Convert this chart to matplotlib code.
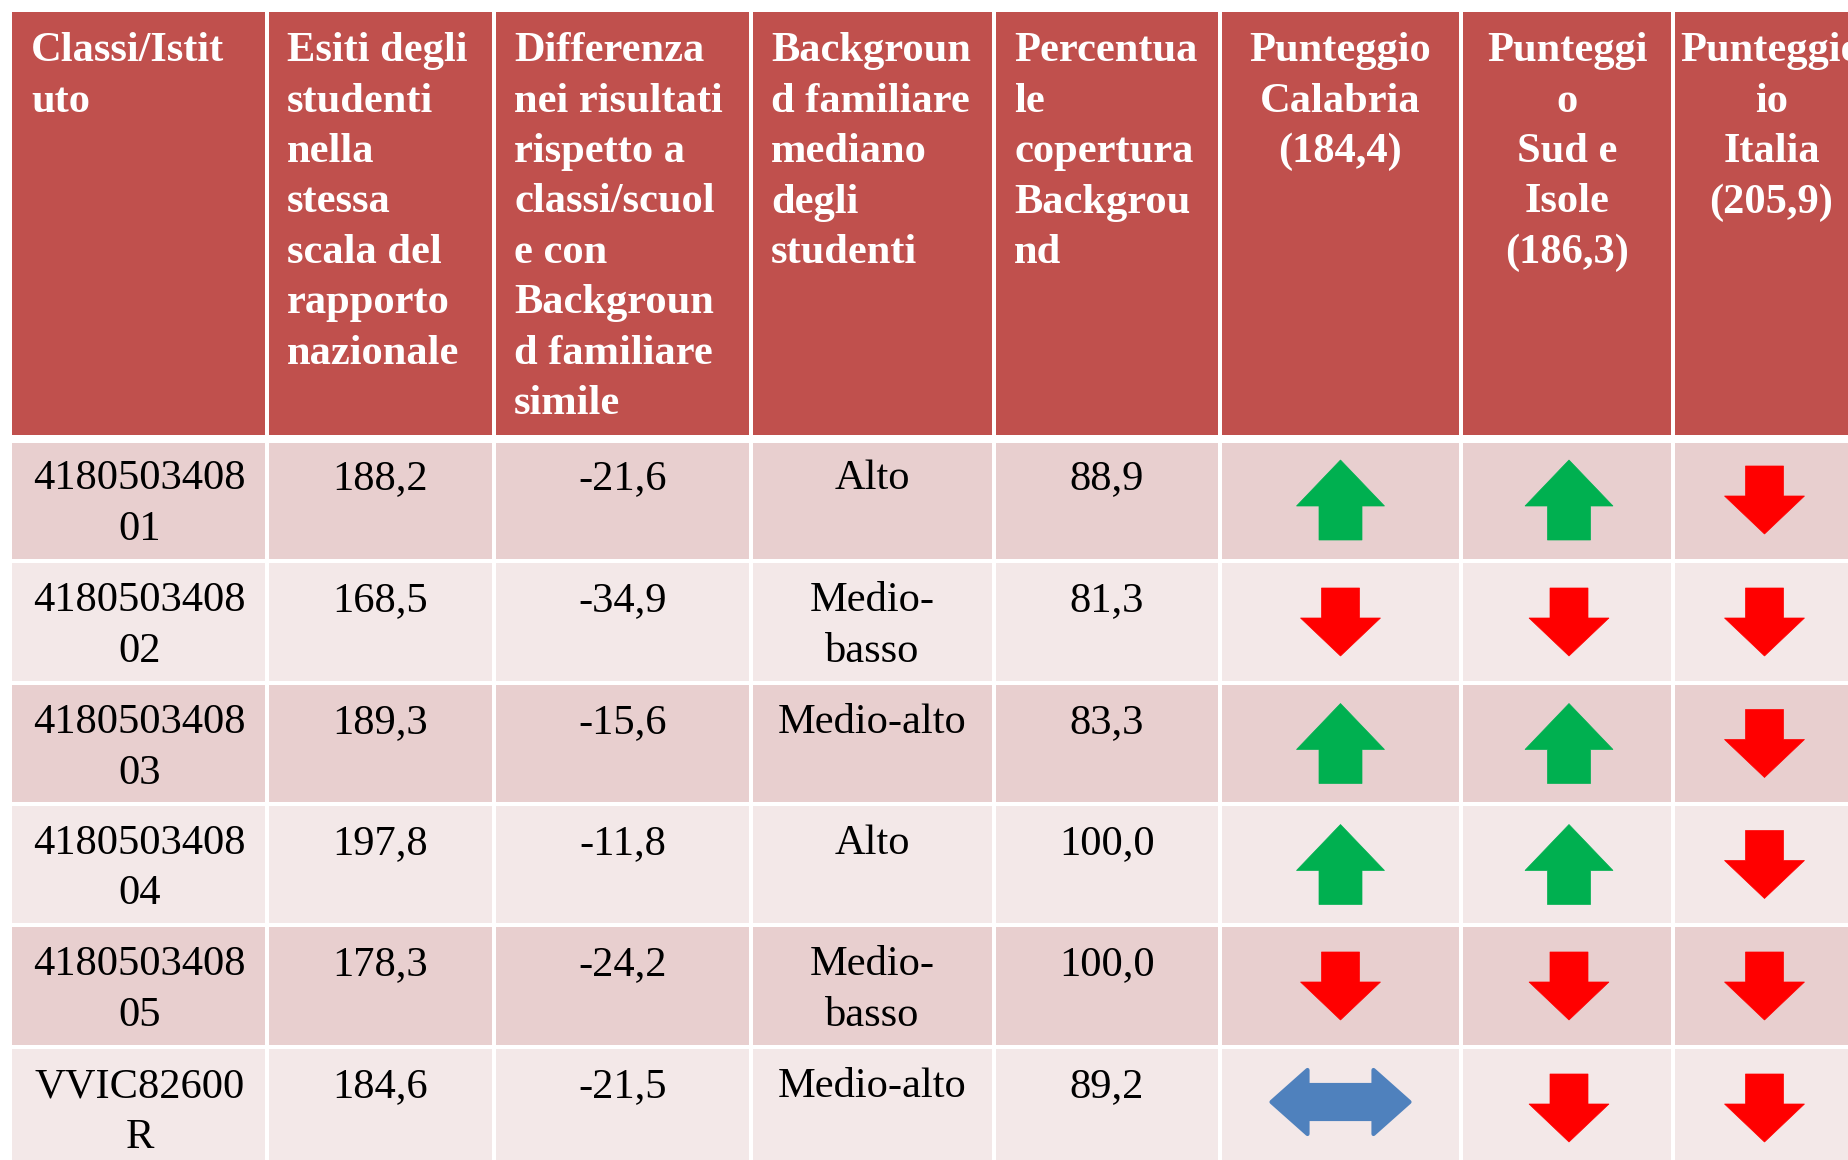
import matplotlib
matplotlib.use("Agg")
import matplotlib.pyplot as plt
from matplotlib.patches import Rectangle, Polygon

plt.rcParams['font.family'] = ['Liberation Serif', 'DejaVu Serif']

# ---------------- data ----------------
headers = [
    ["Classi/Istit", "uto"],
    ["Esiti degli", "studenti", "nella", "stessa", "scala del", "rapporto", "nazionale"],
    ["Differenza", "nei risultati", "rispetto a", "classi/scuol", "e con", "Backgroun", "d familiare", "simile"],
    ["Backgroun", "d familiare", "mediano", "degli", "studenti"],
    ["Percentua", "le", "copertura", "Backgrou", "nd"],
    ["Punteggio", "Calabria", "(184,4)"],
    ["Punteggi", "o", "Sud e", "Isole", "(186,3)"],
    ["Punteggio", "io", "Italia", "(205,9)"],
]
header_align = ["left", "left", "left", "left", "left", "center", "center", "center"]

classi = ["4180503408\n01", "4180503408\n02", "4180503408\n03",
          "4180503408\n04", "4180503408\n05", "VVIC82600\nR"]
esiti = [188.2, 168.5, 189.3, 197.8, 178.3, 184.6]
differenza = [-21.6, -34.9, -15.6, -11.8, -24.2, -21.5]
background = ["Alto", "Medio-\nbasso", "Medio-alto", "Alto", "Medio-\nbasso", "Medio-alto"]
copertura = [88.9, 81.3, 83.3, 100.0, 100.0, 89.2]
trend_calabria = ["up", "down", "up", "up", "down", "eq"]
trend_sud = ["up", "down", "up", "up", "down", "down"]
trend_italia = ["down", "down", "down", "down", "down", "down"]

# ---------------- style / layout ----------------
HEADER_COLOR = "#C0504D"
ROW_COLORS = ["#E8CFCF", "#F3E8E8"]
GREEN = "#00B050"
RED = "#FF0000"
BLUE = "#4F81BD"
FS = 30.6
LINE = 50.5

col_edges = [12, 267, 494, 751, 994, 1220, 1461, 1673, 1870]
arrow_x_shift = [0, 0, 0, 0, 0, 0, 2, -7]
header_top, header_bottom = 12, 435
row_edges = [439, 561, 683, 804, 925, 1047, 1169]
GAP = 1.6


def fmt(v):
    return f"{v:.1f}".replace(".", ",")


fig = plt.figure(figsize=(18.49, 11.60), dpi=100)
ax = fig.add_axes([0, 0, 1, 1])
ax.set_xlim(0, 1849)
ax.set_ylim(1160, 0)
ax.axis("off")

# header cells
for c in range(8):
    x0 = col_edges[c] + (0 if c == 0 else GAP)
    x1 = col_edges[c + 1] - GAP
    ax.add_patch(Rectangle((x0, header_top), x1 - x0, header_bottom - header_top,
                           facecolor=HEADER_COLOR, edgecolor="none"))
    for i, ln in enumerate(headers[c]):
        y = 61 + i * LINE
        if header_align[c] == "left":
            ax.text(col_edges[c] + 20 if c else 31, y, ln, fontsize=FS, fontweight="bold",
                    color="white", ha="left", va="baseline")
        else:
            ax.text((col_edges[c] + col_edges[c + 1]) / 2, y, ln, fontsize=FS,
                    fontweight="bold", color="white", ha="center", va="baseline")

# body cells
body_cols = [classi, [fmt(v) for v in esiti], [fmt(v) for v in differenza],
             background, [fmt(v) for v in copertura]]
trend_cols = [trend_calabria, trend_sud, trend_italia]


def up_arrow(cx, cy, w=88, h=80, sw=43, hh=46):
    top = cy - h / 2
    bot = cy + h / 2
    return [(cx, top), (cx + w / 2, top + hh), (cx + sw / 2, top + hh), (cx + sw / 2, bot),
            (cx - sw / 2, bot), (cx - sw / 2, top + hh), (cx - w / 2, top + hh)]


def down_arrow(cx, cy, w=80, h=68, sw=38, hh=38):
    top = cy - h / 2
    bot = cy + h / 2
    return [(cx, bot), (cx + w / 2, bot - hh), (cx + sw / 2, bot - hh), (cx + sw / 2, top),
            (cx - sw / 2, top), (cx - sw / 2, bot - hh), (cx - w / 2, bot - hh)]


def double_arrow(cx, cy, w=138, h=64, sh=34, hl=36):
    l, r = cx - w / 2, cx + w / 2
    t, b = cy - h / 2, cy + h / 2
    return [(l, cy), (l + hl, t), (l + hl, cy - sh / 2), (r - hl, cy - sh / 2), (r - hl, t),
            (r, cy), (r - hl, b), (r - hl, cy + sh / 2), (l + hl, cy + sh / 2), (l + hl, b)]


for r in range(len(classi)):
    y0 = row_edges[r] + (4 if r == 0 else GAP)
    y1 = row_edges[r + 1] - GAP
    color = ROW_COLORS[r % 2]
    for c in range(8):
        x0 = col_edges[c] + (0 if c == 0 else GAP)
        x1 = col_edges[c + 1] - GAP
        ax.add_patch(Rectangle((x0, y0), x1 - x0, y1 - y0, facecolor=color, edgecolor="none"))
        cx = (col_edges[c] + col_edges[c + 1]) / 2
        if c < 5:
            for i, ln in enumerate(body_cols[c][r].split("\n")):
                ax.text(cx, row_edges[r] + 50 + i * LINE, ln, fontsize=FS, color="black",
                        ha="center", va="baseline")
        else:
            cx += arrow_x_shift[c]
            cy = (row_edges[r] + row_edges[r + 1]) / 2
            t = trend_cols[c - 5][r]
            if t == "up":
                ax.add_patch(Polygon(up_arrow(cx, cy), closed=True, facecolor=GREEN,
                                     edgecolor=GREEN, linewidth=0.5))
            elif t == "down":
                ax.add_patch(Polygon(down_arrow(cx, cy), closed=True, facecolor=RED,
                                     edgecolor=RED, linewidth=0.5))
            else:
                ax.add_patch(Polygon(double_arrow(cx, cy - 6), closed=True, facecolor=BLUE,
                                     edgecolor=BLUE, linewidth=3, joinstyle="round"))

fig.savefig("out.png", dpi=100, facecolor="white")
